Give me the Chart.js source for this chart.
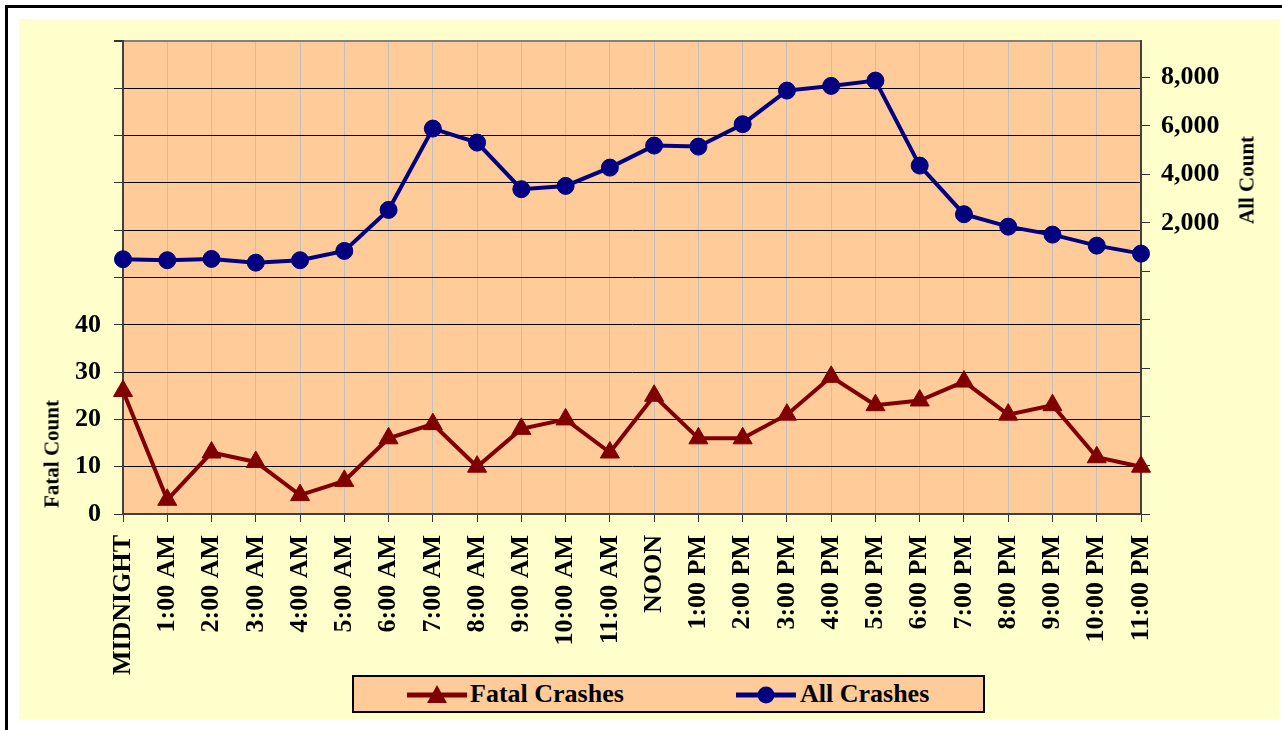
<!DOCTYPE html>
<html>
<head>
<meta charset="utf-8">
<script src="https://cdn.jsdelivr.net/npm/chart.js@4.4.0/dist/chart.umd.min.js"></script>
<style>
html,body{margin:0;padding:0;background:#fff;width:1282px;height:730px;overflow:hidden;}
#frame{position:absolute;left:5px;top:5px;width:1400px;height:900px;border-left:3px solid #000;border-top:3px solid #000;}
#bg{position:absolute;left:19px;top:19px;width:1260px;height:700px;background:#FFFFCC;}
#c{position:absolute;left:0;top:0;}
.atitle{position:absolute;font:bold 21px "Liberation Serif",serif;white-space:nowrap;transform:translate(-50%,-50%) rotate(-90deg);color:#000;}
#legend{position:absolute;left:352px;top:675px;width:629px;height:34px;border:2px solid #000;background:#FFCC99;font:bold 26px "Liberation Serif",serif;color:#000;}
#legend .sw{position:absolute;top:7px;}
#legend .tx{position:absolute;top:1px;white-space:nowrap;line-height:32px;}
</style>
</head>
<body>
<div id="frame"></div>
<div id="bg"></div>
<canvas id="c" width="1282" height="730"></canvas>
<div class="atitle" style="left:52px;top:454px;">Fatal Count</div>
<div class="atitle" style="left:1247px;top:180px;">All Count</div>
<div id="legend">
  <svg class="sw" style="left:52px" width="62" height="22">
    <line x1="1" y1="11" x2="61" y2="11" stroke="#800000" stroke-width="5"/>
    <polygon points="31,1 41,19 21,19" fill="#800000"/>
  </svg>
  <div class="tx" style="left:116px">Fatal Crashes</div>
  <svg class="sw" style="left:381px" width="62" height="22">
    <line x1="1" y1="11" x2="61" y2="11" stroke="#000080" stroke-width="5"/>
    <circle cx="31" cy="11" r="8.5" fill="#000080"/>
  </svg>
  <div class="tx" style="left:446px">All Crashes</div>
</div>
<script>
const hours = ['MIDNIGHT','1:00 AM','2:00 AM','3:00 AM','4:00 AM','5:00 AM','6:00 AM','7:00 AM','8:00 AM','9:00 AM','10:00 AM','11:00 AM','NOON','1:00 PM','2:00 PM','3:00 PM','4:00 PM','5:00 PM','6:00 PM','7:00 PM','8:00 PM','9:00 PM','10:00 PM','11:00 PM'];
const fatalCrashes = [26,3,13,11,4,7,16,19,10,18,20,13,25,16,16,21,29,23,24,28,21,23,12,10];
const allCrashes = [503,462,515,363,462,845,2536,5889,5311,3390,3526,4280,5188,5146,6070,7456,7649,7868,4363,2359,1847,1518,1064,734];
const fatalTickValues = [0,10,20,30,40,50,60,70,80,90,100];
const fatalTickLabels = ['0','10','20','30','40','','','','','',''];
const allTickValues = [-10000,-8000,-6000,-4000,-2000,0,2000,4000,6000,8000];
const allTickLabels = ['','','','','','','2,000','4,000','6,000','8,000'];

const tickFont = {family:'"Liberation Serif", serif', size:26, weight:'bold'};

const plotBg = {
  id:'plotBg',
  beforeDraw(chart){
    const {ctx, chartArea:a} = chart;
    ctx.save();
    ctx.fillStyle = '#FFCC99';
    ctx.fillRect(a.left, a.top, a.right - a.left, a.bottom - a.top);
    ctx.restore();
  }
};

new Chart(document.getElementById('c'), {
  type:'line',
  data:{
    labels:hours,
    datasets:[
      {label:'Fatal Crashes', data:fatalCrashes, yAxisID:'yFatal', borderColor:'#800000', backgroundColor:'#800000',
       borderWidth:4, pointStyle:'triangle', pointRadius:11, pointBorderWidth:1, pointBorderColor:'#800000', tension:0, clip:false},
      {label:'All Crashes', data:allCrashes, yAxisID:'yAll', borderColor:'#000080', backgroundColor:'#000080',
       borderWidth:4, pointStyle:'circle', pointRadius:8.5, pointBorderWidth:1, pointBorderColor:'#000080', tension:0, clip:false}
    ]
  },
  options:{
    responsive:false, animation:false, devicePixelRatio:1,
    layout:{padding:{left:35, top:41, right:0, bottom:0}},
    plugins:{legend:{display:false}, tooltip:{enabled:false}},
    scales:{
      x:{
        type:'category', offset:false,
        grid:{color:'#C0C0C0', tickColor:'#333', tickLength:8, lineWidth:1},
        border:{color:'#404040', width:2},
        ticks:{autoSkip:false, maxRotation:90, minRotation:90, padding:13, color:'#000', font:tickFont},
        afterFit(s){ s.height = 216; }
      },
      yFatal:{
        position:'left', min:0, max:100,
        afterBuildTicks(s){ s.ticks = fatalTickValues.map(v => ({value:v})); },
        ticks:{padding:13, color:'#000', font:tickFont,
          callback:(v) => fatalTickLabels[fatalTickValues.indexOf(v)]},
        grid:{
          color:(c) => (c.tick && c.tick.value === 100) ? '#808080' : '#000',
          lineWidth:(c) => (c.tick && c.tick.value === 100) ? 2 : 1,
          tickColor:'#333', tickLength:9
        },
        border:{color:'#404040', width:2},
        afterFit(s){ s.width = 88; }
      },
      yAll:{
        position:'right', min:-10000, max:9500,
        afterBuildTicks(s){ s.ticks = allTickValues.map(v => ({value:v})); },
        ticks:{padding:11, color:'#000', font:tickFont,
          callback:(v) => allTickLabels[allTickValues.indexOf(v)]},
        grid:{drawOnChartArea:false, tickColor:'#333', tickLength:9},
        border:{color:'#404040', width:2},
        afterFit(s){ s.width = 141; }
      }
    }
  },
  plugins:[plotBg]
});
</script>
</body>
</html>
